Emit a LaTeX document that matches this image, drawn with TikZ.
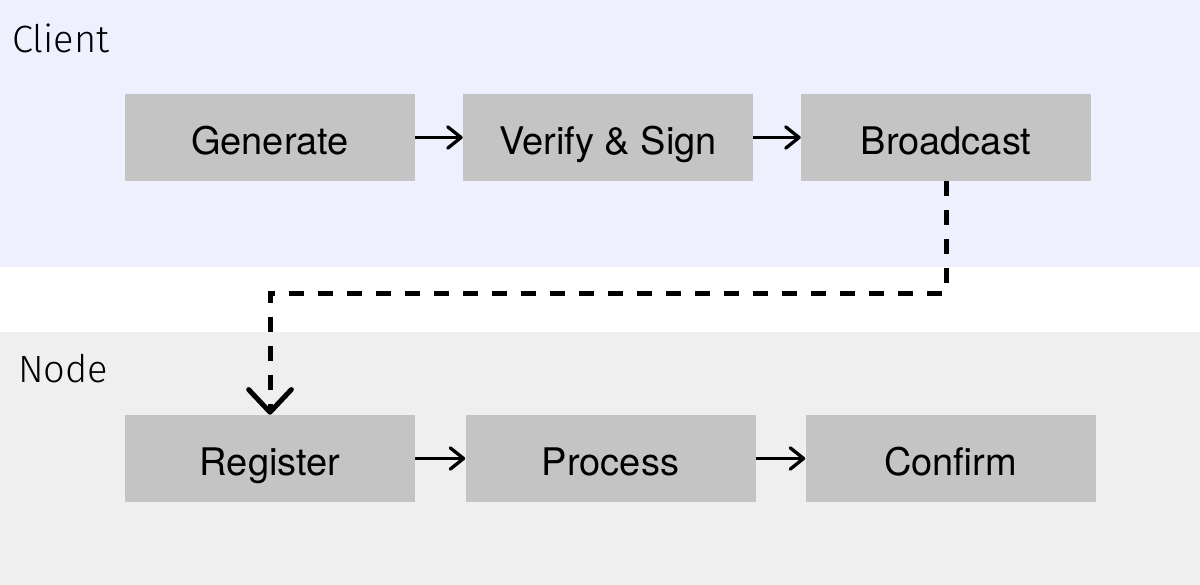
\documentclass[tikz,border=0pt]{standalone}
\usepackage{fontspec}
\setmainfont{TeX Gyre Heros}
\newfontfamily\lanefont{Fira Sans Light}
\usetikzlibrary{arrows.meta}
\newlength{\du}
\setlength{\du}{0.75pt}
\definecolor{clientbg}{RGB}{238,240,253}
\definecolor{nodebg}{RGB}{239,239,239}
\definecolor{boxfill}{RGB}{196,196,196}
\tikzset{
  stepbox/.style={rectangle,fill=boxfill,draw=none,inner sep=0pt,
    minimum width=217.5pt,minimum height=65.25pt,text height=26.2pt,text depth=0pt,
    font=\fontsize{28.5}{32}\selectfont},
  lanelabel/.style={anchor=base west,inner sep=0pt,
    font=\lanefont\fontsize{28.5}{32}\selectfont},
  flow/.style={-{Straight Barb[length=10pt,width=16pt,line cap=round,line join=round]},line width=2.5pt},
  handoff/.style={-{Straight Barb[length=17pt,width=32pt,line cap=round,line join=round]},
    line width=3.75pt,dash pattern=on 11.25pt off 10.5pt}
}

\begin{document}
\begin{tikzpicture}
\pgftransformyscale{-1.000000}
\useasboundingbox (0\du,0\du) rectangle (1200\du,585\du);
% lanes
\fill[clientbg] (0\du,0\du) rectangle (1200\du,267\du);
\fill[nodebg] (0\du,332\du) rectangle (1200\du,585\du);
\node[lanelabel] (clientlbl) at (12\du,53\du){Client};
\node[lanelabel] (nodelbl) at (18\du,382\du){Node};
% client steps
\node[stepbox] (gen) at (270\du,137.5\du){Generate};
\node[stepbox] (sign) at (608\du,137.5\du){Verify \& Sign};
\node[stepbox] (bcast) at (946\du,137.5\du){Broadcast};
% node steps
\node[stepbox] (reg) at (270\du,458.5\du){Register};
\node[stepbox] (proc) at (610.5\du,458.5\du){Process};
\node[stepbox] (conf) at (950.5\du,458.5\du){Confirm};
% arrows
\draw[flow] (gen) -- (sign);
\draw[flow] (sign) -- (bcast);
\draw[flow] (reg) -- (proc);
\draw[flow] (proc) -- (conf);
\draw[handoff] (bcast.south) -- ++(0\du,112\du) -| (reg.north);
\end{tikzpicture}
\end{document}
